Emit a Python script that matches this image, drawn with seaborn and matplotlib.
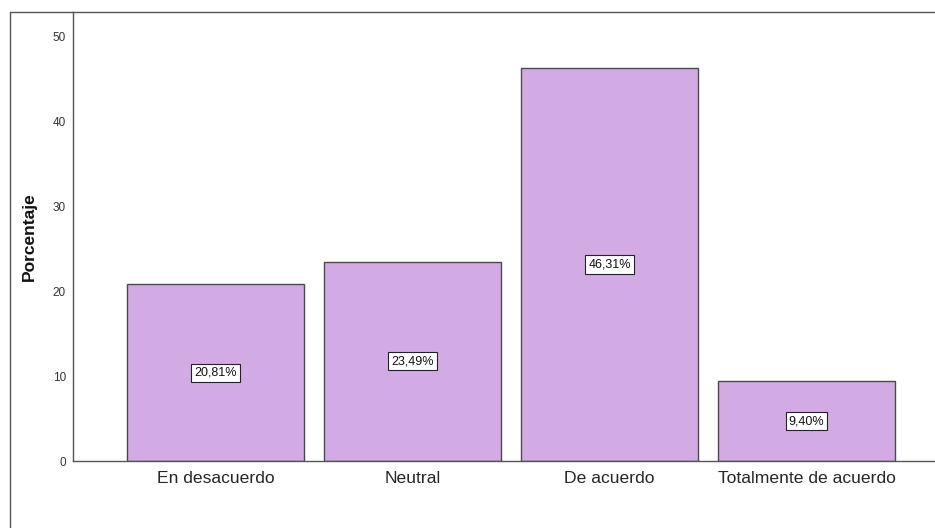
import matplotlib
matplotlib.use("Agg")
import matplotlib.pyplot as plt
import seaborn as sns
import pandas as pd
from matplotlib.lines import Line2D

categorias = ["En desacuerdo", "Neutral", "De acuerdo", "Totalmente de acuerdo"]
porcentajes = [20.81, 23.49, 46.31, 9.40]
etiquetas = ["20,81%", "23,49%", "46,31%", "9,40%"]
ticks_y = [0, 10, 20, 30, 40, 50]

sns.set_style("white")
plt.rcParams["font.family"] = ["Liberation Sans", "DejaVu Sans"]

df = pd.DataFrame({"Categoria": categorias, "Porcentaje": porcentajes})

fig = plt.figure(figsize=(9.35, 5.28), dpi=100)
ax = fig.add_axes([73 / 935, 67 / 528, 1 - 73 / 935, 449 / 528])

sns.barplot(data=df, x="Categoria", y="Porcentaje", color="#d3abe4",
            saturation=1, edgecolor="#4a4a4a", linewidth=1, width=0.9, ax=ax)

for i, (v, t) in enumerate(zip(porcentajes, etiquetas)):
    ax.text(i, v / 2, t, ha="center", va="center", fontsize=9, color="#111111",
            bbox=dict(boxstyle="square,pad=0.25", facecolor="white",
                      edgecolor="#222222", linewidth=0.8))

ax.set_xlim(-0.723, 3.652)
ax.set_ylim(0, 52.9)
ax.set_yticks(ticks_y)
ax.tick_params(axis="y", labelsize=8.5, labelcolor="#333333", length=0, pad=5)
ax.tick_params(axis="x", labelsize=12.6, labelcolor="#262626", length=0, pad=7)
ax.set_xlabel("")
ax.set_ylabel("")

for s in ["left", "bottom", "top"]:
    ax.spines[s].set_visible(True)
    ax.spines[s].set_color("#555555")
    ax.spines[s].set_linewidth(1)
ax.spines["right"].set_visible(False)

fig.text(29 / 935, 1 - 237 / 528, "Porcentaje", rotation=90, ha="center", va="center",
         fontsize=12.5, fontweight="bold", color="#111111")

# marco exterior
fig.add_artist(Line2D([10 / 935, 10 / 935], [0, 1 - 12 / 528], color="#555555", linewidth=1))
fig.add_artist(Line2D([10 / 935, 73 / 935], [1 - 12 / 528, 1 - 12 / 528], color="#555555", linewidth=1))

fig.savefig("out.png", dpi=100)
